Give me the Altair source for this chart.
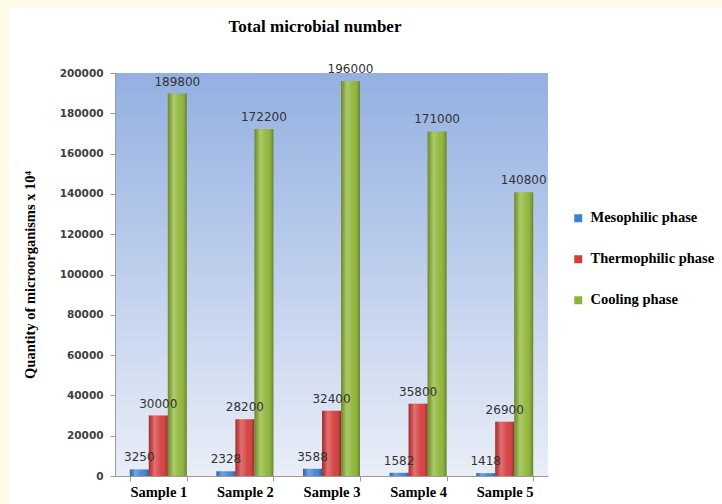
import altair as alt
import pandas as pd

samples = ["Sample 1", "Sample 2", "Sample 3", "Sample 4", "Sample 5"]
phases = ["Mesophilic phase", "Thermophilic phase", "Cooling phase"]
mesophilic = [3250, 2328, 3588, 1582, 1418]
thermophilic = [30000, 28200, 32400, 35800, 26900]
cooling = [189800, 172200, 196000, 171000, 140800]
colors = ["#3F80D4", "#D63A3A", "#8DB534"]
y_ticks = [0, 20000, 40000, 60000, 80000, 100000, 120000, 140000, 160000, 180000, 200000]
title_text = "Total microbial number"

rows = []
for i, s in enumerate(samples):
    for p, vals in zip(phases, [mesophilic, thermophilic, cooling]):
        rows.append({"sample": s, "phase": p, "value": vals[i]})
df = pd.DataFrame(rows)
one = pd.DataFrame({"t": [title_text]})

W, H = 433, 403
PL, PT = 115, 73

x = alt.X(
    "sample:N", sort=samples,
    scale=alt.Scale(paddingInner=0.342, paddingOuter=0.171),
    axis=alt.Axis(title=None, labelAngle=0, labelFont="Liberation Serif",
                  labelFontWeight="bold", labelFontSize=14.5, labelColor="#000",
                  labelPadding=4, tickBand="extent", tickSize=5,
                  tickColor="#9a9a9a", domainColor="#9a9a9a", zindex=1),
)
xo = alt.XOffset("phase:N", sort=phases, scale=alt.Scale(paddingInner=0, paddingOuter=0))
y = alt.Y(
    "value:Q", scale=alt.Scale(domain=[0, 200000], nice=False),
    axis=alt.Axis(values=y_ticks, format="d", grid=False,
                  title="Quantity of microorganisms x 10\u2074",
                  titleFont="Liberation Serif", titleFontWeight="bold",
                  titleFontSize=14.5, titleColor="#000", titlePadding=22,
                  labelFont="DejaVu Sans", labelFontWeight="bold", labelFontSize=10.5,
                  labelColor="#404040", labelPadding=7, tickSize=5,
                  tickColor="#9a9a9a", domainColor="#9a9a9a", zindex=1),
)

cream_left = alt.Chart(one).mark_rect(color="#FFFBE9").encode(
    x=alt.value(-PL), x2=alt.value(-PL + 9), y=alt.value(-PT), y2=alt.value(504 - PT))
cream_top = alt.Chart(one).mark_rect(color="#FFFBE9").encode(
    x=alt.value(-PL), x2=alt.value(722 - PL), y=alt.value(-PT), y2=alt.value(-PT + 8))

title = alt.Chart(one).mark_text(
    font="Liberation Serif", fontWeight="bold", fontSize=17, color="#000",
    align="center", baseline="middle"
).encode(x=alt.value(315 - PL), y=alt.value(27 - PT), text="t:N")

bg = alt.Chart(one).mark_rect(
    color=alt.LinearGradient(
        gradient="linear", x1=0, x2=0, y1=0, y2=1,
        stops=[alt.GradientStop(color="#94B0E1", offset=0),
               alt.GradientStop(color="#C3D2EE", offset=0.55),
               alt.GradientStop(color="#E9EEF7", offset=1)])
).encode(x=alt.value(0), x2=alt.value(W), y=alt.value(0), y2=alt.value(H))

bars = alt.Chart(df).mark_bar().encode(
    x=x, xOffset=xo, y=y,
    color=alt.Color("phase:N", sort=phases,
                    scale=alt.Scale(domain=phases, range=colors),
                    legend=alt.Legend(title=None, orient="none", legendX=456, legendY=138,
                                      symbolType="square", symbolSize=64,
                                      symbolStrokeWidth=0,
                                      labelFont="Liberation Serif", labelFontWeight="bold",
                                      labelFontSize=14.5, labelColor="#000",
                                      rowPadding=26, padding=0, labelOffset=5, zindex=1)),
)

shade = alt.Chart(df).mark_bar(
    color=alt.LinearGradient(
        gradient="linear", x1=0, x2=1, y1=0, y2=0,
        stops=[alt.GradientStop(color="rgba(0,0,0,0.22)", offset=0),
               alt.GradientStop(color="rgba(255,255,255,0.28)", offset=0.3),
               alt.GradientStop(color="rgba(255,255,255,0.05)", offset=0.65),
               alt.GradientStop(color="rgba(0,0,0,0.28)", offset=1)])
).encode(x=x, xOffset=xo, y=y)

labels = alt.Chart(df).mark_text(
    baseline="bottom", dy=-5, font="DejaVu Sans", fontSize=12, color="#333333"
).encode(x=x, xOffset=xo, y=y, text=alt.Text("value:Q", format="d"))

chart = alt.layer(cream_left, cream_top, title, bg, bars, shade, labels).properties(
    width=W, height=H, autosize="none",
    padding={"left": PL, "top": PT, "right": 722 - PL - W, "bottom": 504 - PT - H},
    background="white",
).configure_view(stroke=None)

chart.save("out.html", embed_options={"renderer": "svg", "actions": False})
